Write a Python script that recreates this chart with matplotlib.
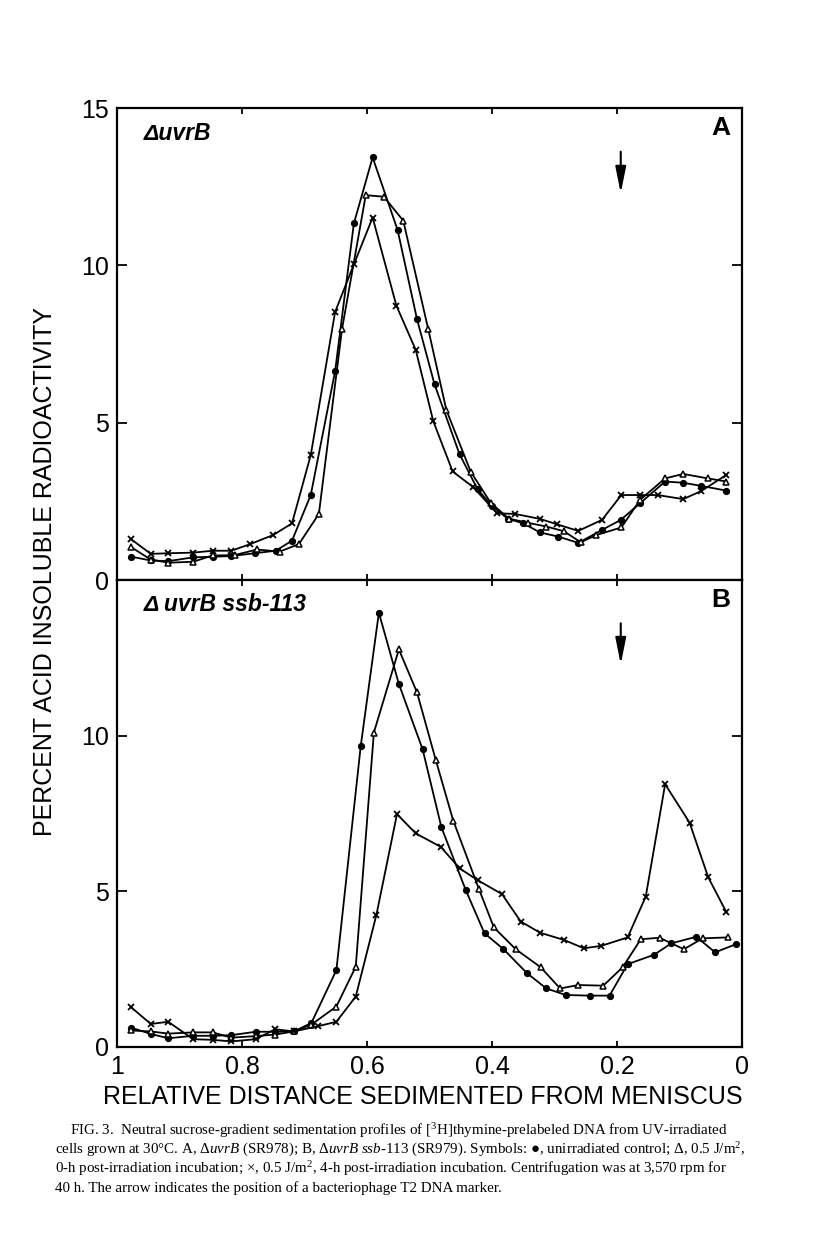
import matplotlib
matplotlib.use("Agg")
import matplotlib.pyplot as plt
from matplotlib import font_manager

# ---- values (x = relative distance, y = % acid insoluble) ----
# panel A, delta-uvrB
a_dot_x = [0.977, 0.946, 0.918, 0.878, 0.847, 0.817, 0.780, 0.746, 0.720, 0.690, 0.651, 0.621, 0.591, 0.551, 0.520,
           0.492, 0.452, 0.423, 0.400, 0.375, 0.350, 0.323, 0.294, 0.262, 0.224, 0.194, 0.163, 0.123, 0.094, 0.065, 0.025]
a_dot_y = [0.74, 0.62, 0.60, 0.72, 0.74, 0.76, 0.85, 0.93, 1.25, 2.70, 6.64, 11.33, 13.43, 11.12, 8.29,
           6.22, 4.00, 2.88, 2.35, 1.95, 1.80, 1.51, 1.38, 1.18, 1.59, 1.91, 2.44, 3.13, 3.09, 2.99, 2.84]

a_tri_x = [0.977, 0.946, 0.918, 0.878, 0.847, 0.812, 0.776, 0.740, 0.709, 0.677, 0.640, 0.602, 0.573, 0.542, 0.502,
           0.473, 0.434, 0.402, 0.373, 0.343, 0.313, 0.285, 0.258, 0.233, 0.193, 0.163, 0.123, 0.094, 0.055, 0.025]
a_tri_y = [1.04, 0.65, 0.55, 0.58, 0.78, 0.79, 0.97, 0.90, 1.14, 2.10, 7.97, 12.23, 12.18, 11.42, 7.97,
           5.40, 3.44, 2.45, 1.95, 1.82, 1.70, 1.55, 1.20, 1.43, 1.67, 2.55, 3.23, 3.37, 3.23, 3.13]

a_x_x = [0.977, 0.946, 0.918, 0.878, 0.847, 0.817, 0.787, 0.750, 0.720, 0.690, 0.651, 0.621, 0.591, 0.553, 0.522,
         0.494, 0.463, 0.430, 0.392, 0.363, 0.323, 0.296, 0.262, 0.224, 0.193, 0.164, 0.135, 0.094, 0.065, 0.025]
a_x_y = [1.29, 0.83, 0.85, 0.87, 0.93, 0.93, 1.14, 1.43, 1.80, 3.97, 8.52, 10.03, 11.52, 8.72, 7.31,
         5.05, 3.45, 2.95, 2.12, 2.10, 1.94, 1.77, 1.56, 1.91, 2.70, 2.70, 2.70, 2.57, 2.83, 3.34]

# panel B, delta-uvrB ssb-113
b_dot_x = [0.977, 0.946, 0.918, 0.878, 0.847, 0.817, 0.778, 0.747, 0.717, 0.689, 0.649, 0.610, 0.581, 0.549, 0.511,
           0.481, 0.442, 0.412, 0.382, 0.344, 0.313, 0.282, 0.243, 0.212, 0.183, 0.141, 0.113, 0.073, 0.043, 0.010]
b_dot_y = [0.62, 0.42, 0.28, 0.36, 0.36, 0.38, 0.49, 0.49, 0.50, 0.77, 2.47, 9.67, 13.95, 11.66, 9.56,
           7.06, 5.04, 3.65, 3.15, 2.37, 1.88, 1.67, 1.65, 1.65, 2.66, 2.96, 3.33, 3.54, 3.04, 3.30]

b_tri_x = [0.977, 0.946, 0.918, 0.878, 0.847, 0.817, 0.778, 0.747, 0.717, 0.689, 0.649, 0.618, 0.589, 0.549, 0.520,
           0.490, 0.462, 0.421, 0.397, 0.362, 0.322, 0.291, 0.262, 0.222, 0.191, 0.162, 0.132, 0.093, 0.063, 0.023]
b_tri_y = [0.53, 0.50, 0.43, 0.47, 0.47, 0.30, 0.35, 0.40, 0.50, 0.72, 1.30, 2.58, 10.10, 12.77, 11.39,
           9.22, 7.27, 5.08, 3.84, 3.14, 2.56, 1.88, 1.99, 1.97, 2.56, 3.46, 3.51, 3.14, 3.49, 3.52]

b_x_x = [0.977, 0.946, 0.918, 0.878, 0.847, 0.817, 0.778, 0.747, 0.717, 0.678, 0.649, 0.618, 0.585, 0.552, 0.522,
         0.482, 0.452, 0.423, 0.384, 0.354, 0.323, 0.285, 0.253, 0.225, 0.183, 0.154, 0.123, 0.084, 0.054, 0.025]
b_x_y = [1.27, 0.74, 0.81, 0.25, 0.23, 0.18, 0.25, 0.57, 0.50, 0.67, 0.81, 1.62, 4.24, 7.48, 6.86,
         6.43, 5.74, 5.36, 4.91, 4.03, 3.67, 3.44, 3.17, 3.25, 3.52, 4.83, 8.44, 7.21, 5.45, 4.33]

x_ticks = [1, 0.8, 0.6, 0.4, 0.2, 0]
x_tick_labels = ["1", "0.8", "0.6", "0.4", "0.2", "0"]
marker_pos = 0.194   # T2 DNA marker (arrow)

caption = [
    r"FIG. 3.  Neutral sucrose-gradient sedimentation profiles of [$^{3}$H]thymine-prelabeled DNA from UV-irradiated",
    r"cells grown at 30°C. A, Δ$\mathit{uvrB}$ (SR978); B, Δ$\mathit{uvrB}$ $\mathit{ssb}$-$\mathit{113}$ (SR979). Symbols: ●, unirradiated control; Δ, 0.5 J/m$^{2}$,",
    r"0-h post-irradiation incubation; ×, 0.5 J/m$^{2}$, 4-h post-irradiation incubation. Centrifugation was at 3,570 rpm for",
    r"40 h. The arrow indicates the position of a bacteriophage T2 DNA marker.",
]

# narrow sans if we have it, otherwise plain
names = {f.name for f in font_manager.fontManager.ttflist}
if "Liberation Sans Narrow" in names:
    SANS, big = "Liberation Sans Narrow", 21.5
else:
    SANS, big = "Liberation Sans", 18

plt.rcParams["font.family"] = [SANS, "DejaVu Sans"]
plt.rcParams["mathtext.fontset"] = "custom"
plt.rcParams["mathtext.rm"] = "Liberation Serif"
plt.rcParams["mathtext.it"] = "Liberation Serif:italic"

W, H = 816, 1240
fig = plt.figure(figsize=(W / 100, H / 100), dpi=100)
ax_a = fig.add_axes([117 / W, 1 - 580 / H, 625 / W, 472 / H])
ax_b = fig.add_axes([117 / W, 1 - 1047 / H, 625 / W, 467 / H])


def draw(ax, dx, dy, tx, ty, xx, xy):
    ax.plot(dx, dy, "-o", color="black", lw=1.3, ms=4.2, zorder=3)
    ax.plot(tx, ty, "-^", color="black", mfc="white", lw=1.3, ms=5, mew=1.1, zorder=3)
    ax.plot(xx, xy, "-x", color="black", lw=1.3, ms=5, mew=1.3, zorder=3)
    ax.set_xlim(1, 0)
    ax.set_ylim(0, 15)
    ax.set_xticks(x_ticks)
    ax.tick_params(direction="in", top=True, right=True, width=1.3, labelsize=big, pad=6)
    ax.tick_params(axis="x", length=4)
    ax.tick_params(axis="y", length=7)
    for s in ax.spines.values():
        s.set_linewidth(1.6)
    ax.annotate("", xy=(marker_pos, 12.2), xytext=(marker_pos, 13.7),
                arrowprops=dict(arrowstyle="-|>,head_length=1.0,head_width=0.2",
                                color="black", lw=1.5, mutation_scale=16))


draw(ax_a, a_dot_x, a_dot_y, a_tri_x, a_tri_y, a_x_x, a_x_y)
draw(ax_b, b_dot_x, b_dot_y, b_tri_x, b_tri_y, b_x_x, b_x_y)

ax_a.set_yticks([0, 5, 10, 15])
ax_a.tick_params(labelbottom=False)
ax_b.set_yticks([0, 5, 10])
ax_b.set_xticklabels(x_tick_labels)

lab = dict(family=["Liberation Sans", "DejaVu Sans"])
ax_a.text(0.958, 14.2, "ΔuvrB", fontsize=16.5, style="italic", weight="bold", va="center", **lab)
ax_b.text(0.958, 14.2, "Δ uvrB ssb-113", fontsize=16.5, style="italic", weight="bold", va="center", **lab)
ax_a.text(0.019, 14.35, "A", fontsize=19, weight="heavy", ha="right", va="center", **lab)
ax_b.text(0.019, 14.35, "B", fontsize=19, weight="heavy", ha="right", va="center", **lab)

fig.text(0.055, 0.539, "PERCENT ACID INSOLUBLE RADIOACTIVITY", rotation=90,
         ha="center", va="center", fontsize=big)
fig.text(0.518, 0.1153, "RELATIVE DISTANCE SEDIMENTED FROM MENISCUS",
         ha="center", va="center", fontsize=big)

# caption
serif = ["Liberation Serif", "DejaVu Serif"]
cap_y = [1131, 1150, 1169, 1188]
cap_left = [70, 55, 55, 55]
for i, line in enumerate(caption):
    fig.text(cap_left[i] / W, 1 - cap_y[i] / H, line, family=serif, fontsize=10.8,
             ha="left", va="center")

fig.savefig("out.png", dpi=100)
